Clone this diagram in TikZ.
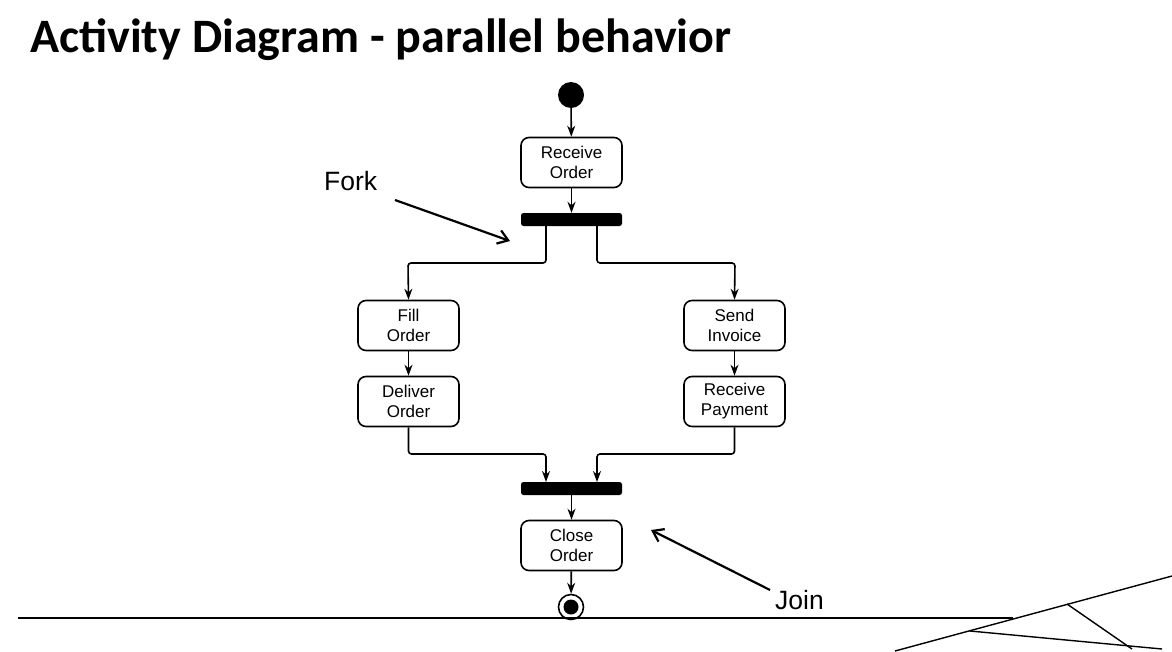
\documentclass[tikz,border=0pt]{standalone}
\usepackage{fontspec}
\setmainfont{Liberation Sans}
\newfontfamily\titlefont{Carlito}
\usetikzlibrary{arrows.meta}
\begin{document}
\begin{tikzpicture}[x=1pt,y=-1pt,
  act/.style={draw, line width=1.6pt, rounded corners=8pt, minimum width=101pt, minimum height=50pt, inner sep=0pt, align=center, font=\fontsize{17}{20}\selectfont},
  bar/.style={fill=black, rounded corners=2.5pt, minimum width=101pt, minimum height=13pt, inner sep=0pt},
  flow/.style={line width=1.6pt, -{Stealth[length=11pt,width=8pt]}},
  note/.style={line width=2.2pt, -{Straight Barb[length=10pt,width=14pt]}},
  lbl/.style={font=\fontsize{26.5}{30}\selectfont, inner sep=0pt}]
\useasboundingbox (0,0) rectangle (1172,651);
\fill[white] (0,0) rectangle (1172,651);
\node[anchor=base west, inner sep=0pt, font=\titlefont\bfseries\fontsize{48}{54}\selectfont] (title) at (30,52) {Activity Diagram - parallel behavior};
\node[circle, fill=black, minimum size=26pt, inner sep=0pt] (start) at (571,95) {};
\node[act] (recv) at (571.5,162.5) {Receive\\Order};
\node[bar] (fork) at (571.5,219.5) {};
\node[act] (fill) at (408.5,325.5) {Fill\\Order};
\node[act] (deliv) at (408.5,401.5) {Deliver\\Order};
\node[act] (send) at (734.5,325.5) {Send\\Invoice};
\node[act] (pay) at (734.5,401.5) {Receive\\Payment};
\node[bar] (join) at (571.5,488.5) {};
\node[act] (close) at (571.5,545.5) {Close\\Order};
\node[circle, draw, line width=1.6pt, fill=white, minimum size=25pt, inner sep=0pt] (end) at (571,607) {};
\node[circle, fill=black, minimum size=15pt, inner sep=0pt] (endin) at (571,607) {};
\coordinate (fl) at (546,226);
\coordinate (fr) at (597,226);
\coordinate (jl) at (546,482);
\coordinate (jr) at (597,482);
\draw[flow] (start) -- (recv);
\draw[flow] (recv) -- (fork);
\draw[flow, rounded corners=3pt] (fl) |- (408,263) -- (fill.north);
\draw[flow, rounded corners=3pt] (fr) |- (735,263) -- (send.north);
\draw[flow] (fill) -- (deliv);
\draw[flow] (send) -- (pay);
\draw[flow, rounded corners=3pt] (deliv.south) |- (546,454) -- (jl);
\draw[flow, rounded corners=3pt] (pay.south) |- (597,454) -- (jr);
\draw[flow] (join) -- (close);
\draw[flow] (close) -- (end);
\node[lbl, anchor=west] (forkl) at (324,181) {Fork};
\node[lbl, anchor=west] (joinl) at (775,600) {Join};
\coordinate (forkt) at (510,241);
\coordinate (joint) at (651,530);
\draw[note] (395,200) -- (forkt);
\draw[note] (770,590) -- (joint);
\draw[line width=1.4pt] (18,618) -- (1013,618);
\draw[line width=1.4pt] (895,651) -- (1172,576);
\draw[line width=1.4pt] (970,631) -- (1162,649);
\draw[line width=1.4pt] (1067,604) -- (1132,649);
\end{tikzpicture}
\end{document}
